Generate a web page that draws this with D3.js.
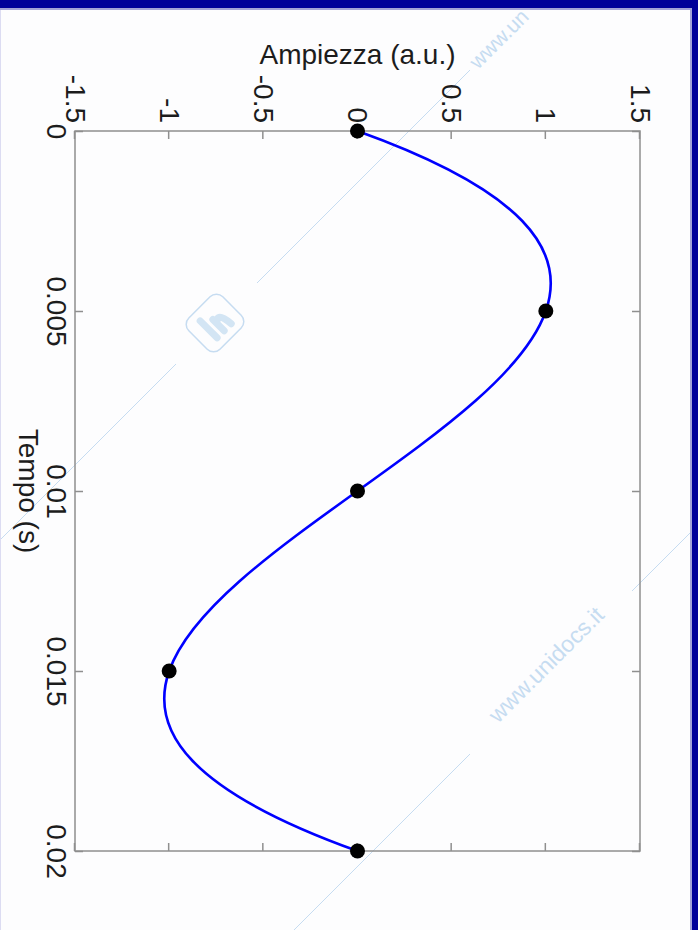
<!DOCTYPE html>
<html>
<head>
<meta charset="utf-8">
<script src="https://cdn.jsdelivr.net/npm/d3@7"></script>
<style>
  body { margin: 0; background: #fdfdfe; }
  svg { display: block; }
</style>
</head>
<body>
<div id="chart-area"></div>
<script>
// data
var tempo = [0, 0.005, 0.01, 0.015, 0.02];
var ampiezza = [0, 1, 0, -1, 0];
var tempoTicks = [0, 0.005, 0.01, 0.015, 0.02];
var tempoLabels = ["0", "0.005", "0.01", "0.015", "0.02"];
var ampTicks = [-1.5, -1, -0.5, 0, 0.5, 1, 1.5];
var ampLabels = ["-1.5", "-1", "-0.5", "0", "0.5", "1", "1.5"];

var W = 698, H = 930;
var plotW = 720, plotH = 565;   // unrotated plot: time across, amplitude up
var font = "'Liberation Sans', Arial, sans-serif";

var svg = d3.select("#chart-area")
  .append("svg")
    .attr("width", W)
    .attr("height", H);

svg.append("rect").attr("width", W).attr("height", H).attr("fill", "#fdfdfe");

// watermark
var wmColor = "#c6dcf1";
var wm = svg.append("g").attr("stroke", wmColor).attr("stroke-width", 1).attr("fill", "none");
wm.append("line").attr("x1", 0).attr("y1", 540).attr("x2", 176).attr("y2", 364);
wm.append("line").attr("x1", 257).attr("y1", 283).attr("x2", 470).attr("y2", 70);
wm.append("line").attr("x1", 294).attr("y1", 930).attr("x2", 470).attr("y2", 754);
wm.append("line").attr("x1", 632).attr("y1", 591).attr("x2", 698).attr("y2", 525);
var logo = wm.append("g").attr("transform", "translate(215,323) rotate(-45)");
logo.append("rect").attr("x", -24).attr("y", -22).attr("width", 48).attr("height", 44)
  .attr("rx", 9).attr("stroke-width", 1.5);
logo.append("path").attr("d", "M-9,-12 L-9,12 M1,-4 L1,12 M1,2 Q9,-8 11,12")
  .attr("stroke", "#d3e5f4").attr("stroke-width", 7).attr("stroke-linecap", "round");
svg.append("text")
  .attr("transform", "translate(478,70) rotate(-45)")
  .attr("font-family", font).attr("font-size", "21px").attr("fill", wmColor)
  .text("www.un");
svg.append("text")
  .attr("transform", "translate(498,724) rotate(-45)")
  .attr("font-family", font).attr("font-size", "23px").attr("fill", wmColor)
  .text("www.unidocs.it");

// frame of the slide
svg.append("rect").attr("x", 0).attr("y", 0).attr("width", W).attr("height", 8).attr("fill", "#000099");
svg.append("rect").attr("x", 0).attr("y", 8).attr("width", W - 6).attr("height", 2).attr("fill", "#a3a3d6");
svg.append("rect").attr("x", W - 6).attr("y", 0).attr("width", 6).attr("height", H).attr("fill", "#000099");
svg.append("rect").attr("x", W - 8).attr("y", 10).attr("width", 2).attr("height", H).attr("fill", "#a3a3d6");
svg.append("rect").attr("x", 0).attr("y", 10).attr("width", 1).attr("height", H).attr("fill", "#dcdcf2");

// the figure is turned 90 degrees clockwise
var g = svg.append("g")
  .attr("transform", "translate(640,131) rotate(90)");

var x = d3.scaleLinear().domain([0, 0.02]).range([0, plotW]);
var y = d3.scaleLinear().domain([-1.5, 1.5]).range([plotH, 0]);

// not-a-knot cubic spline (like matlab spline) as a d3 curve
function splineCtrl(v) {
  var n = v.length, A = [], b = [], i, j, k;
  for (i = 0; i < n; i++) { A.push(new Array(n).fill(0)); b.push(0); }
  A[0][0] = 1; A[0][1] = -2; A[0][2] = 1;
  A[n - 1][n - 3] = 1; A[n - 1][n - 2] = -2; A[n - 1][n - 1] = 1;
  for (i = 1; i < n - 1; i++) {
    A[i][i - 1] = 1; A[i][i] = 4; A[i][i + 1] = 1;
    b[i] = 6 * (v[i + 1] - 2 * v[i] + v[i - 1]);
  }
  for (k = 0; k < n; k++) {
    var p = k;
    for (i = k + 1; i < n; i++) if (Math.abs(A[i][k]) > Math.abs(A[p][k])) p = i;
    var t = A[k]; A[k] = A[p]; A[p] = t; t = b[k]; b[k] = b[p]; b[p] = t;
    for (i = k + 1; i < n; i++) {
      var f = A[i][k] / A[k][k];
      for (j = k; j < n; j++) A[i][j] -= f * A[k][j];
      b[i] -= f * b[k];
    }
  }
  var M = new Array(n).fill(0);
  for (i = n - 1; i >= 0; i--) {
    var s = b[i];
    for (j = i + 1; j < n; j++) s -= A[i][j] * M[j];
    M[i] = s / A[i][i];
  }
  var c1 = [], c2 = [];
  for (i = 0; i < n - 1; i++) {
    var d = v[i + 1] - v[i];
    c1.push(v[i] + (d - (2 * M[i] + M[i + 1]) / 6) / 3);
    c2.push(v[i + 1] - (d + (M[i] + 2 * M[i + 1]) / 6) / 3);
  }
  return [c1, c2];
}

function curveNotAKnot(context) {
  var xs, ys;
  return {
    areaStart: function() {}, areaEnd: function() {},
    lineStart: function() { xs = []; ys = []; },
    point: function(px, py) { xs.push(+px); ys.push(+py); },
    lineEnd: function() {
      var n = xs.length;
      if (!n) return;
      context.moveTo(xs[0], ys[0]);
      if (n < 4) {
        for (var i = 1; i < n; i++) context.lineTo(xs[i], ys[i]);
        return;
      }
      var cx = splineCtrl(xs), cy = splineCtrl(ys);
      for (var i = 0; i < n - 1; i++) {
        context.bezierCurveTo(cx[0][i], cy[0][i], cx[1][i], cy[1][i], xs[i + 1], ys[i + 1]);
      }
    }
  };
}

var axisColor = "#8f8f8f";

function styleAxis(sel) {
  sel.select(".domain").remove();
  sel.selectAll(".tick line").attr("stroke", axisColor).attr("stroke-width", 1.5);
  sel.selectAll(".tick text").attr("fill", "#1c1c1c");
  sel.attr("font-size", "28px").attr("font-family", font);
}

// bottom (time) axis
g.append("g")
  .attr("transform", "translate(0," + plotH + ")")
  .call(d3.axisBottom(x).tickValues(tempoTicks)
    .tickFormat(function(d, i) { return tempoLabels[i]; })
    .tickSizeInner(-8).tickSizeOuter(0).tickPadding(8))
  .call(styleAxis);

// left (amplitude) axis
g.append("g")
  .call(d3.axisLeft(y).tickValues(ampTicks)
    .tickFormat(function(d, i) { return ampLabels[i]; })
    .tickSizeInner(-8).tickSizeOuter(0).tickPadding(8))
  .call(styleAxis);

// ticks on the other two sides of the box
g.append("g")
  .call(d3.axisTop(x).tickValues(tempoTicks).tickFormat("").tickSizeInner(-8).tickSizeOuter(0))
  .call(styleAxis);
g.append("g")
  .attr("transform", "translate(" + plotW + ",0)")
  .call(d3.axisRight(y).tickValues(ampTicks).tickFormat("").tickSizeInner(-8).tickSizeOuter(0))
  .call(styleAxis);

g.append("rect")
  .attr("width", plotW).attr("height", plotH)
  .attr("fill", "none").attr("stroke", axisColor).attr("stroke-width", 1.5);

// axis labels
g.append("text")
  .attr("x", plotW / 2)
  .attr("y", plotH + 56)
  .attr("font-size", "28px")
  .attr("font-family", font)
  .attr("fill", "#1c1c1c")
  .attr("text-anchor", "middle")
  .text("Tempo (s)");

svg.append("text")
  .attr("x", 640 - plotH / 2)
  .attr("y", 64)
  .attr("font-size", "28px")
  .attr("font-family", font)
  .attr("fill", "#1c1c1c")
  .attr("text-anchor", "middle")
  .text("Ampiezza (a.u.)");

// spline curve through the samples
var pts = tempo.map(function(t, i) { return {t: t, a: ampiezza[i]}; });

var line = d3.line()
  .x(function(d) { return x(d.t); })
  .y(function(d) { return y(d.a); })
  .curve(curveNotAKnot);

g.append("path")
  .datum(pts)
  .attr("d", line)
  .attr("fill", "none")
  .attr("stroke", "#0000ff")
  .attr("stroke-width", 2.6);

// sample points
g.append("g")
  .selectAll("circle")
  .data(pts)
  .enter()
  .append("circle")
    .attr("cx", function(d) { return x(d.t); })
    .attr("cy", function(d) { return y(d.a); })
    .attr("r", 7.5)
    .attr("fill", "#000");
</script>
</body>
</html>
